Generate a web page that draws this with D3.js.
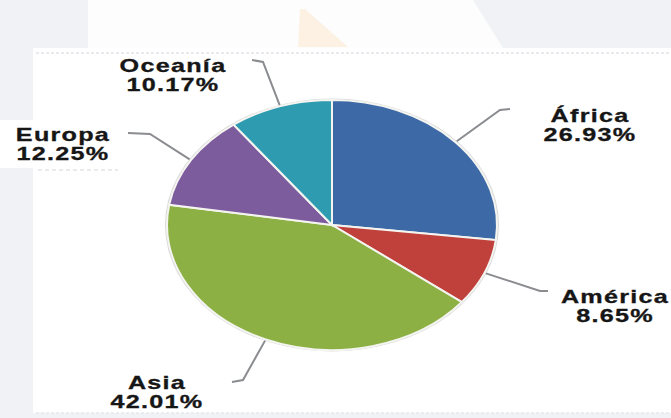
<!DOCTYPE html>
<html>
<head>
<meta charset="utf-8">
<script src="https://cdn.jsdelivr.net/npm/d3@7"></script>
<style>
  html, body { margin: 0; padding: 0; background: #f1f2f6; }
  svg { display: block; }
</style>
</head>
<body>
<svg id="chart" width="671" height="418"></svg>
<script>
// Population share by continent
const continents = ["África", "América", "Asia", "Europa", "Oceanía"];
const shares = [26.93, 8.65, 42.01, 12.25, 10.17];
const percentLabels = ["26.93%", "8.65%", "42.01%", "12.25%", "10.17%"];
const sliceColors = ["#3d6aa6", "#c0403b", "#8cb043", "#7d5c9e", "#2e9bb1"];

// Label placement: text centre / first baseline, leader elbow and leader end
const labelLayout = [
  { x: 590, y: 122, elbow: [500, 110], end: [510, 109] },   // África
  { x: 615, y: 303, elbow: [540, 291], end: [548, 291] },   // América
  { x: 157, y: 389, elbow: [243, 380], end: [232, 382] },   // Asia
  { x: 63,  y: 141, elbow: [150, 134], end: [128, 133] },   // Europa
  { x: 173, y: 72,  elbow: [263, 62],  end: [252, 60] }     // Oceanía
];

const svg = d3.select("#chart");
const W = 671, H = 418;

// Page backdrop pieces
svg.append("rect").attr("width", W).attr("height", H).attr("fill", "#f1f2f6");
svg.append("polygon")
  .attr("points", "88,0 473,0 503,48 88,48")
  .attr("fill", "#fdfdfe");
svg.append("polygon")
  .attr("points", "300,9 305,9 348,47 298,47")
  .attr("fill", "#fdf1e4");

// Chart frame
svg.append("rect")
  .attr("x", 33).attr("y", 48).attr("width", W - 33).attr("height", 365)
  .attr("fill", "#ffffff");
svg.append("line")
  .attr("x1", 36).attr("x2", W).attr("y1", 53).attr("y2", 53)
  .attr("stroke", "#e2e3e8").attr("stroke-width", 1.5)
  .attr("stroke-dasharray", "3,2");
svg.append("line")
  .attr("x1", 36).attr("x2", W).attr("y1", 413).attr("y2", 413)
  .attr("stroke", "#e6e7ec").attr("stroke-width", 1.5)
  .attr("stroke-dasharray", "3,2");
// Backing box behind the Europa label
svg.append("rect")
  .attr("x", 0).attr("y", 120).attr("width", 130).attr("height", 48)
  .attr("fill", "#ffffff");
svg.append("line")
  .attr("x1", 38).attr("x2", 118).attr("y1", 170).attr("y2", 170)
  .attr("stroke", "#d4d5da").attr("stroke-width", 1.2)
  .attr("stroke-dasharray", "4,3");

// Pie, drawn as a circle and stretched horizontally into an ellipse
const cx = 332, cy = 225, r = 125, sx = 1.32;
const data = continents.map((c, i) => ({ name: c, value: shares[i], label: percentLabels[i], color: sliceColors[i], layout: labelLayout[i] }));
const pie = d3.pie().sort(null).value(d => d.value);
const arcs = pie(data);
const arc = d3.arc().innerRadius(0).outerRadius(r);

const pieG = svg.append("g").attr("transform", `translate(${cx},${cy}) scale(${sx},1)`);
pieG.append("circle")
  .attr("r", r + 1.5)
  .attr("fill", "#d8d8d8");
pieG.selectAll("path.slice")
  .data(arcs)
  .join("path")
  .attr("class", "slice")
  .attr("d", arc)
  .attr("fill", d => d.data.color)
  .attr("stroke", "#f4f4f0")
  .attr("stroke-width", 2)
  .attr("vector-effect", "non-scaling-stroke");

// Leader lines from the rim of each slice
svg.selectAll("polyline.leader")
  .data(arcs)
  .join("polyline")
  .attr("class", "leader")
  .attr("points", d => {
    const mid = (d.startAngle + d.endAngle) / 2;
    const px = cx + Math.sin(mid) * r * 1.01 * sx;
    const py = cy - Math.cos(mid) * r * 1.01;
    const L = d.data.layout;
    return [[px, py], L.elbow, L.end].map(p => p.join(",")).join(" ");
  })
  .attr("fill", "none")
  .attr("stroke", "#8a8c90")
  .attr("stroke-width", 2);

// Labels: name over percentage, wide bold type
const labelG = svg.selectAll("g.label")
  .data(arcs)
  .join("g")
  .attr("class", "label")
  .attr("transform", d => `translate(${d.data.layout.x},${d.data.layout.y}) scale(1.4,1)`);
labelG.append("text")
  .attr("text-anchor", "middle")
  .attr("font-family", "'Liberation Sans', Arial, sans-serif")
  .attr("font-weight", "bold")
  .attr("font-size", 18)
  .attr("letter-spacing", 0.9)
  .attr("fill", "#161616")
  .attr("stroke", "#161616")
  .attr("stroke-width", 0.3)
  .selectAll("tspan")
  .data(d => [d.data.name, d.data.label])
  .join("tspan")
  .attr("x", 0)
  .attr("dy", (t, i) => i === 0 ? 0 : 19.5)
  .text(t => t);
</script>
</body>
</html>
